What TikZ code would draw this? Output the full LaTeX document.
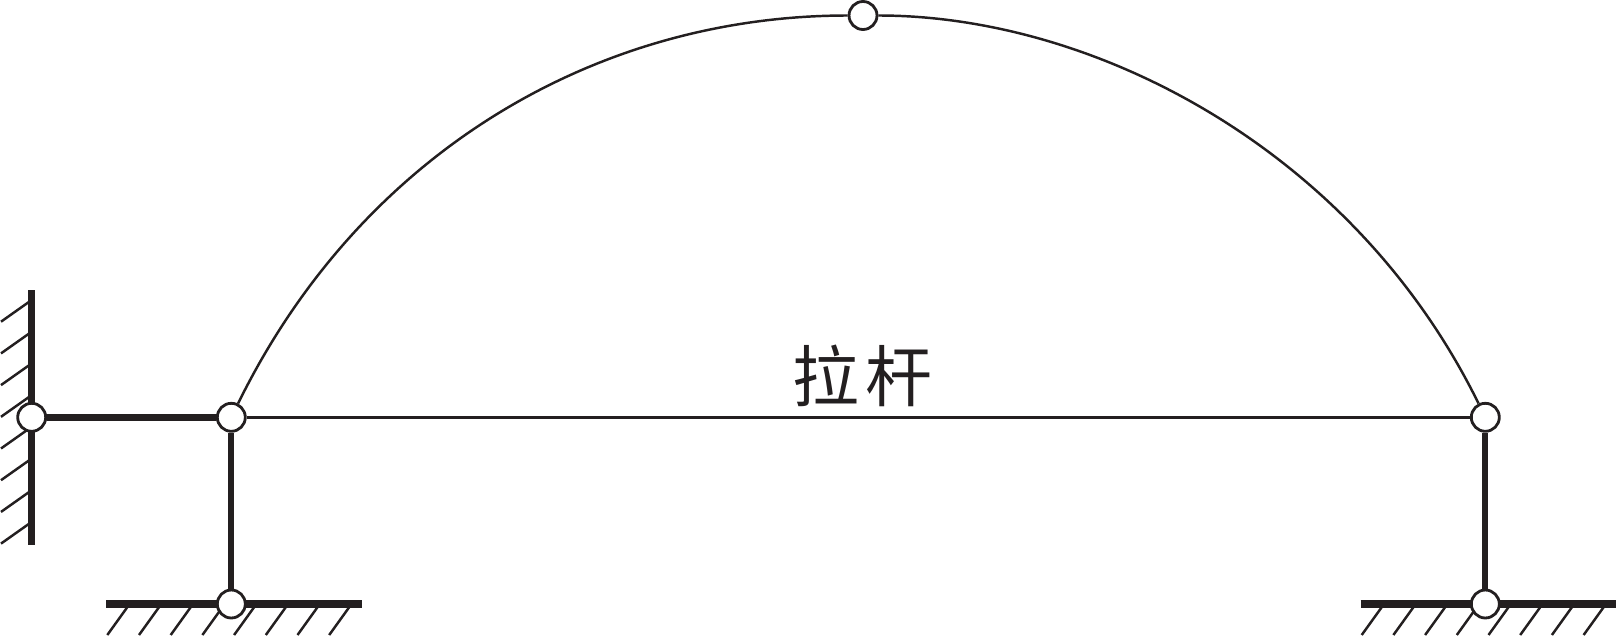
\documentclass[tikz,border=0pt]{standalone}
\usepackage{fontspec}
\newfontfamily\cjk{Noto Sans CJK SC}
\definecolor{ink}{HTML}{231F20}
\tikzset{
	hinge/.style={circle,draw=ink,fill=white,line width=1.6pt,minimum size=0.56cm,inner sep=0pt},
	tie/.style={ink,line width=1.4pt},
	strut/.style={ink,line width=3.6pt},
	ground/.style={ink,line width=4pt},
	hatch/.style={ink,line width=1.4pt}
}
\begin{document}
\begin{tikzpicture}[x=0.02cm,y=-0.02cm]

\useasboundingbox (0,0) rectangle (1616,636);

% The ends of the supports
\coordinate (wallT) at (31.7,290);
\coordinate (wallB) at (31.7,545);
\coordinate (baseLl) at (106,604);
\coordinate (baseLr) at (361.7,604);
\coordinate (baseRl) at (1360.7,604);
\coordinate (baseRr) at (1616,604);

% The hatching
\foreach \k in {0,...,7}
{
	\draw[hatch] (31.7,300+31.7*\k) -- (1,321.7+31.7*\k);
	\draw[hatch] (129.6+31.7*\k,604) -- (107.3+31.7*\k,635);
	\draw[hatch] (1384.0+31.7*\k,604) -- (1361.7+31.7*\k,635);
}

\draw[ground] (wallT) -- (wallB);
\draw[ground] (baseLl) -- (baseLr);
\draw[ground] (baseRl) -- (baseRr);

% The hinges
\node[hinge] (wallH) at (31.7,417.3) {};
\node[hinge] (tieL) at (231.3,417.3) {};
\node[hinge] (crown) at (863,15.5) {};
\node[hinge] (tieR) at (1485.3,417.3) {};
\node[hinge] (baseL) at (231.3,604) {};
\node[hinge] (baseR) at (1485.3,604) {};

\draw[ground] (wallH) -- (tieL);
\draw[strut] (tieL) -- (baseL);
\draw[strut] (tieR) -- (baseR);
\draw[tie] (tieL) -- (tieR);

% The arch
\draw[tie] (tieL) .. controls (361,153) and (596,15.5) .. (crown);
\draw[tie] (tieR) .. controls (1354,150) and (1095,15.5) .. (crown);

\node[ink,inner sep=0pt] (tieLabel) at (862.5,375.5) {\fontsize{38}{38}\cjk 拉\kern3.4pt 杆};

\end{tikzpicture}
\end{document}
